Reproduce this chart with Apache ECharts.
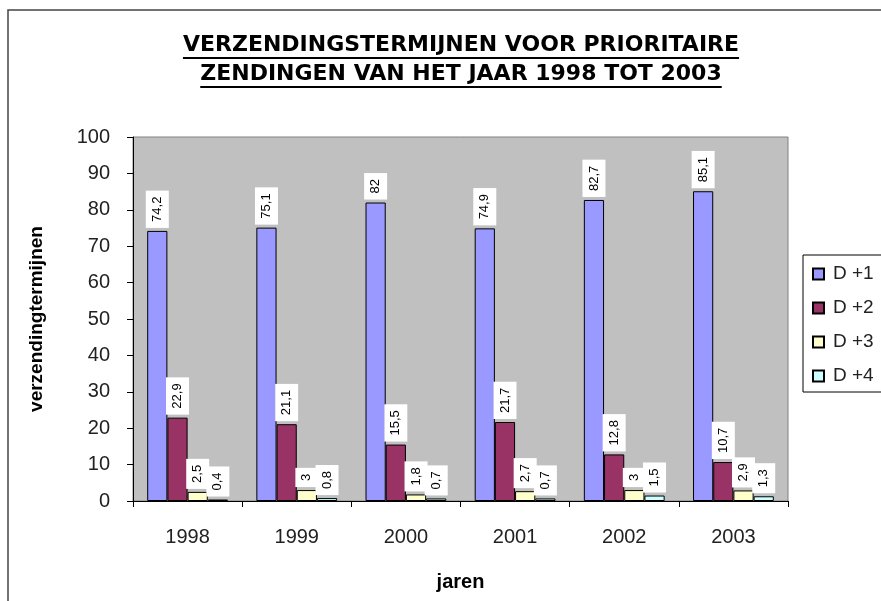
<!DOCTYPE html>
<html>
<head>
<meta charset="utf-8">
<script src="https://cdn.jsdelivr.net/npm/echarts@6/dist/echarts.min.js"></script>
<style>
  html, body { margin: 0; padding: 0; background: #fff; }
  #chart { width: 881px; height: 601px; }
</style>
</head>
<body>
<div id="chart"></div>
<script>
// data
const years = ['1998', '1999', '2000', '2001', '2002', '2003']
const seriesNames = ['D +1', 'D +2', 'D +3', 'D +4']
const dPlus1 = [74.2, 75.1, 82, 74.9, 82.7, 85.1]
const dPlus2 = [22.9, 21.1, 15.5, 21.7, 12.8, 10.7]
const dPlus3 = [2.5, 3, 1.8, 2.7, 3, 2.9]
const dPlus4 = [0.4, 0.8, 0.7, 0.7, 1.5, 1.3]
const yTicks = [0, 10, 20, 30, 40, 50, 60, 70, 80, 90, 100]
const titleLines = ['VERZENDINGSTERMIJNEN VOOR PRIORITAIRE', 'ZENDINGEN VAN HET JAAR 1998 TOT 2003']

const colors = ['#9999FF', '#993366', '#FFFFCC', '#CCFFFF']
const baseFont = '"Liberation Sans", Arial, sans-serif'
const titleFont = 'bold 22px "DejaVu Sans", sans-serif'

// 标题宽度测量（下划线用）
const measure = (text, font) => {
  const ctx = document.createElement('canvas').getContext('2d')
  ctx.font = font
  return ctx.measureText(text).width
}

const titleX = 461
const titleY = [45, 74]
const titleGraphics = []
titleLines.forEach((line, i) => {
  const w = measure(line, titleFont)
  titleGraphics.push({
    type: 'text',
    x: titleX,
    y: titleY[i],
    style: {
      text: line,
      font: titleFont,
      fill: '#000',
      textAlign: 'center',
      textVerticalAlign: 'middle'
    }
  })
  titleGraphics.push({
    type: 'line',
    shape: { x1: titleX - w / 2, y1: titleY[i] + 13, x2: titleX + w / 2, y2: titleY[i] + 13 },
    style: { stroke: '#000', lineWidth: 2 }
  })
})

const fmt = v => String(v).replace('.', ',')

const makeSeries = (name, data, idx) => ({
  name,
  type: 'bar',
  data,
  barGap: '0%',
  barCategoryGap: '26%',
  itemStyle: { color: colors[idx], borderColor: '#000', borderWidth: 1 },
  label: {
    show: true,
    position: 'top',
    distance: 3,
    rotate: 90,
    align: 'left',
    verticalAlign: 'middle',
    formatter: p => fmt(p.value),
    fontFamily: baseFont,
    fontSize: 13,
    lineHeight: 15,
    color: '#000',
    backgroundColor: '#fff',
    padding: [4, 6]
  }
})

const chart = echarts.init(document.getElementById('chart'))

const option = {
  animation: false,
  backgroundColor: '#fff',
  grid: {
    left: 133,
    right: 93,
    top: 137,
    bottom: 100,
    show: true,
    backgroundColor: '#C0C0C0',
    borderColor: '#808080',
    borderWidth: 1
  },
  legend: {
    data: seriesNames,
    orient: 'vertical',
    left: 803,
    top: 255,
    padding: [9, 40, 6, 9],
    itemWidth: 11,
    itemHeight: 11,
    itemGap: 14,
    icon: 'rect',
    borderColor: '#000',
    borderWidth: 1,
    backgroundColor: '#fff',
    textStyle: {
      fontFamily: baseFont,
      fontSize: 19,
      lineHeight: 20,
      color: '#222',
      padding: [0, 0, 0, 4]
    }
  },
  xAxis: {
    type: 'category',
    data: years,
    name: 'jaren',
    nameLocation: 'middle',
    nameGap: 71,
    nameTextStyle: { fontFamily: baseFont, fontSize: 20, fontWeight: 'bold', color: '#000' },
    axisLine: { lineStyle: { color: '#000', width: 1 } },
    axisTick: { show: true, length: 6, lineStyle: { color: '#000' } },
    axisLabel: { fontFamily: baseFont, fontSize: 20, color: '#222', margin: 26 }
  },
  yAxis: {
    type: 'value',
    min: yTicks[0],
    max: yTicks[yTicks.length - 1],
    interval: 10,
    name: 'verzendingtermijnen',
    nameLocation: 'middle',
    nameRotate: 90,
    nameGap: 87,
    nameTextStyle: { fontFamily: baseFont, fontSize: 19, fontWeight: 'bold', color: '#000' },
    axisLine: { show: true, lineStyle: { color: '#000', width: 1 } },
    axisTick: { show: true, length: 6, lineStyle: { color: '#000' } },
    axisLabel: { fontFamily: baseFont, fontSize: 20, color: '#222', margin: 23 },
    splitLine: { show: false }
  },
  graphic: [
    {
      type: 'rect',
      z: -10,
      shape: { x: 8, y: 10, width: 1000, height: 800 },
      style: { fill: 'none', stroke: '#444', lineWidth: 1.5 }
    },
    ...titleGraphics
  ],
  series: [
    makeSeries(seriesNames[0], dPlus1, 0),
    makeSeries(seriesNames[1], dPlus2, 1),
    makeSeries(seriesNames[2], dPlus3, 2),
    makeSeries(seriesNames[3], dPlus4, 3)
  ]
}

chart.setOption(option)
</script>
</body>
</html>
